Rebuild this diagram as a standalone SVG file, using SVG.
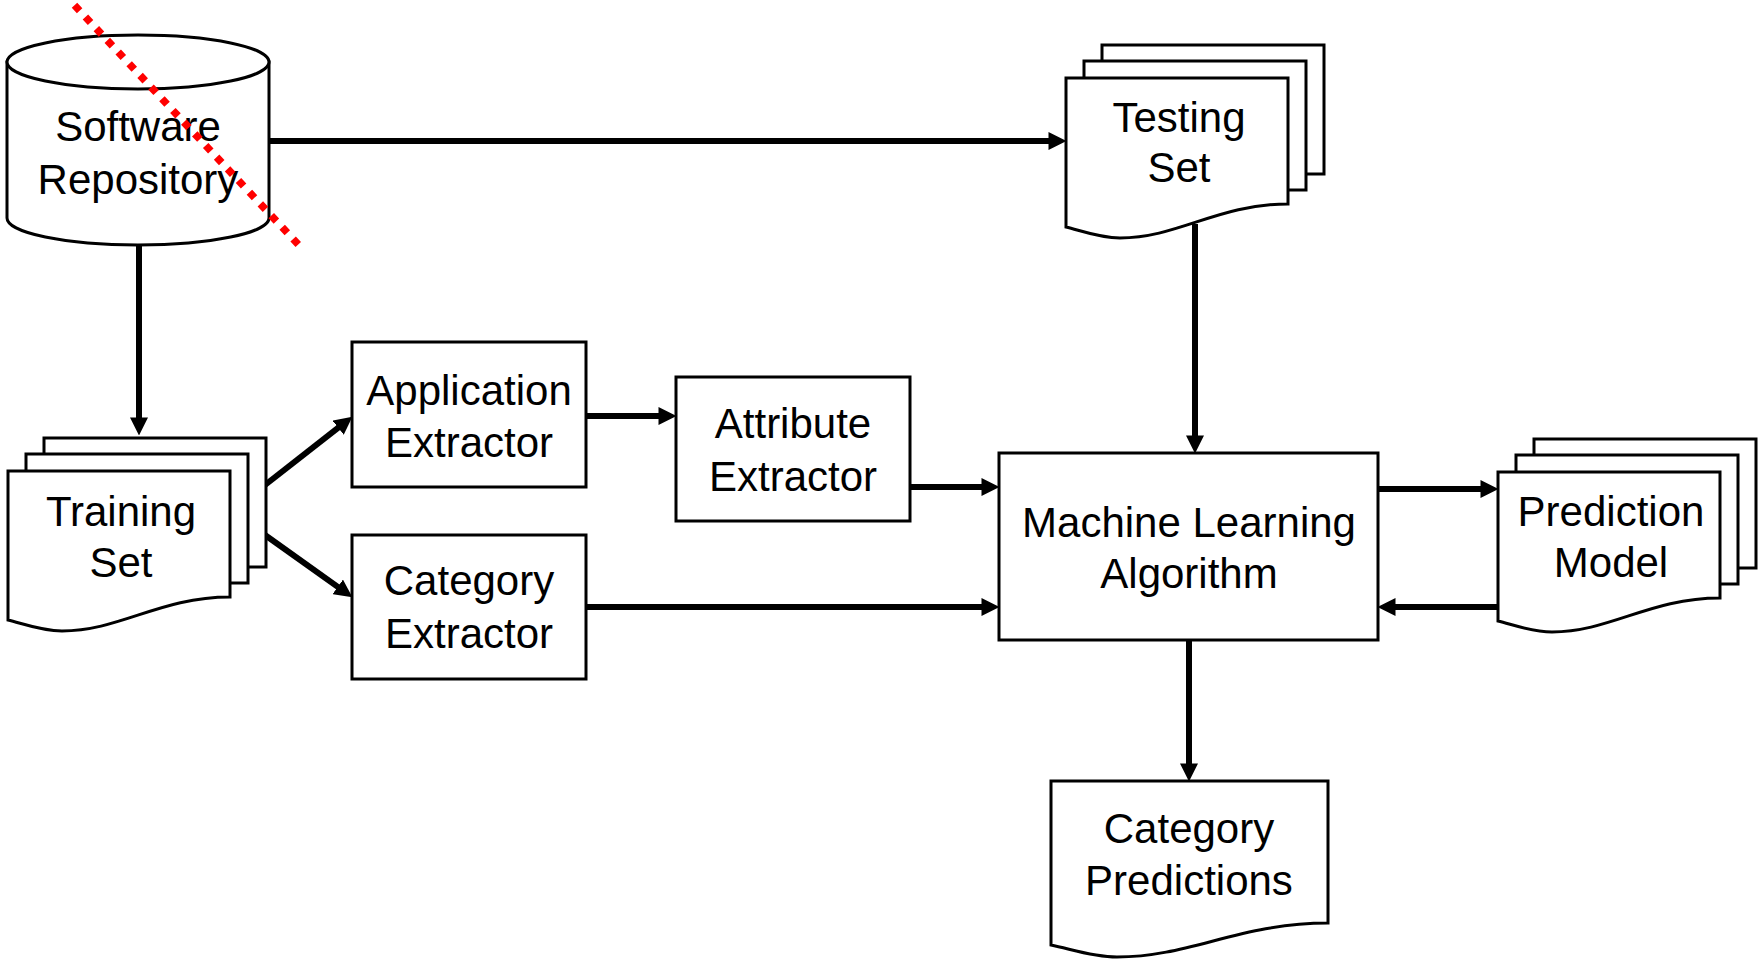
<svg xmlns="http://www.w3.org/2000/svg" width="1759" height="960" viewBox="0 0 1759 960">
<style>
.s{fill:#fff;stroke:#000;stroke-width:3}
.t{font-family:"Liberation Sans",Arial,sans-serif;font-size:42px;fill:#000;text-anchor:middle}
.c{fill:none;stroke:#000;stroke-width:6}
</style>
<defs>
<marker id="ah" markerUnits="userSpaceOnUse" markerWidth="18" markerHeight="18" refX="9" refY="8.5" orient="auto" viewBox="0 0 17 17">
<path d="M0,0 L17,8.5 L0,17 Z" fill="#000"/>
</marker>
<g id="stack">
<rect class="s" x="36" y="-33" width="222" height="129"/>
<rect class="s" x="18" y="-17" width="222" height="129"/>
<path class="s" d="M0,0 H222 V126 C152,126 112,160 54,160 C34,160 16,153 0,149 Z"/>
</g>
</defs>
<rect width="1759" height="960" fill="#fff"/>
<g id="connectors">
<path class="c" d="M269,141 H1058" marker-end="url(#ah)"/>
<path class="c" d="M139,245 V427" marker-end="url(#ah)"/>
<path class="c" d="M265,485 L345.7,421.9" marker-end="url(#ah)"/>
<path class="c" d="M265,535 L345.5,592.4" marker-end="url(#ah)"/>
<path class="c" d="M586,416 H668" marker-end="url(#ah)"/>
<path class="c" d="M910,487 H991" marker-end="url(#ah)"/>
<path class="c" d="M586,607 H991" marker-end="url(#ah)"/>
<path class="c" d="M1195,224 V445" marker-end="url(#ah)"/>
<path class="c" d="M1378,489 H1490" marker-end="url(#ah)"/>
<path class="c" d="M1498,607 H1386" marker-end="url(#ah)"/>
<path class="c" d="M1189,640 V773" marker-end="url(#ah)"/>
</g>
<g id="software-repository">
<path class="s" d="M7,62 V218 A131,27 0 0 0 269,218 V62 Z"/>
<ellipse class="s" cx="138" cy="62" rx="131" ry="27"/>
<text class="t" x="138" y="141">Software</text>
<text class="t" x="138" y="194">Repository</text>
<line x1="74.5" y1="5.3" x2="298.5" y2="244.7" stroke="#ff0000" stroke-width="7.5" stroke-dasharray="7.5 8.5"/>
</g>
<g id="training-set">
<use href="#stack" x="8" y="471"/>
<text class="t" x="121" y="526">Training</text>
<text class="t" x="121" y="577">Set</text>
</g>
<g id="testing-set">
<use href="#stack" x="1066" y="78"/>
<text class="t" x="1179" y="132">Testing</text>
<text class="t" x="1179" y="182">Set</text>
</g>
<g id="prediction-model">
<use href="#stack" x="1498" y="472"/>
<text class="t" x="1611" y="526">Prediction</text>
<text class="t" x="1611" y="577">Model</text>
</g>
<g id="application-extractor">
<rect class="s" x="352" y="342" width="234" height="145"/>
<text class="t" x="469" y="405">Application</text>
<text class="t" x="469" y="457">Extractor</text>
</g>
<g id="attribute-extractor">
<rect class="s" x="676" y="377" width="234" height="144"/>
<text class="t" x="793" y="438">Attribute</text>
<text class="t" x="793" y="491">Extractor</text>
</g>
<g id="category-extractor">
<rect class="s" x="352" y="535" width="234" height="144"/>
<text class="t" x="469" y="595">Category</text>
<text class="t" x="469" y="648">Extractor</text>
</g>
<g id="ml-algorithm">
<rect class="s" x="999" y="453" width="379" height="187"/>
<text class="t" x="1189" y="537">Machine Learning</text>
<text class="t" x="1189" y="588">Algorithm</text>
</g>
<g id="category-predictions">
<path class="s" d="M1051,781 H1328 V923 C1240,923 1190,957 1117,957 C1092,957 1071,949 1051,945 Z"/>
<text class="t" x="1189" y="843">Category</text>
<text class="t" x="1189" y="895">Predictions</text>
</g>
</svg>
